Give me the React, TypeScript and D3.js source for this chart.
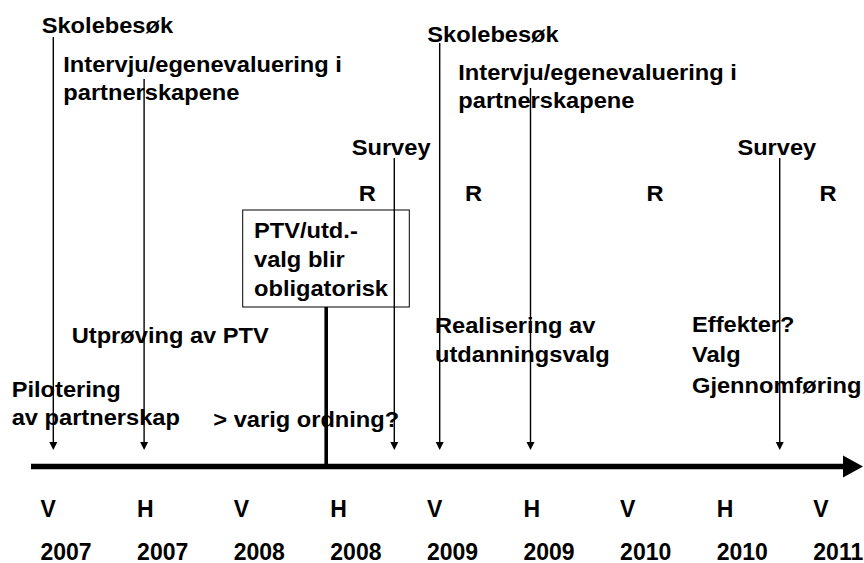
import React from "react";
import * as d3 from "d3";

const semesters = ["V", "H", "V", "H", "V", "H", "V", "H", "V"];
const years = ["2007", "2007", "2008", "2008", "2009", "2009", "2010", "2010", "2011"];

// events: semester position (index along the timeline)
const eventNames = ["Skolebesøk", "Intervju", "Survey", "Skolebesøk", "Intervju", "Survey"];
const eventPos = [0.06, 1.0, 3.59, 4.06, 5.0, 7.58];
const eventTop = [37, 79, 158, 43, 88, 158];

const milestonePos = 2.885; // PTV/utd.-valg blir obligatorisk
const rPos = [3.31, 4.41, 6.29, 8.08];

const W = 864;
const H = 563;
const FS = 21.5;
const SX = 1.1;

const x = d3.scaleLinear().domain([0, 8]).range([47.5, 820.3]);

const axisY = 466.5;
const arrowTip = 450;

function T({ x, y, children, anchor = "start" }: { x: number; y: number; children: any; anchor?: string }) {
  return (
    <text
      transform={`translate(${x},${y}) scale(${SX},1)`}
      textAnchor={anchor as any}
      fontFamily="'Liberation Sans', Arial, sans-serif"
      fontWeight="bold"
      fontSize={FS}
      fill="#000"
    >
      {children}
    </text>
  );
}

const labels: { x: number; y: number; lines: string[]; lh: number }[] = [
  { x: 41.7, y: 33.3, lines: ["Skolebesøk"], lh: 28.4 },
  { x: 63.3, y: 71.7, lines: ["Intervju/egenevaluering i", "partnerskapene"], lh: 28.4 },
  { x: 427.3, y: 41.7, lines: ["Skolebesøk"], lh: 28.4 },
  { x: 458.3, y: 80, lines: ["Intervju/egenevaluering i", "partnerskapene"], lh: 28.4 },
  { x: 351.7, y: 155, lines: ["Survey"], lh: 28.4 },
  { x: 737.4, y: 155, lines: ["Survey"], lh: 28.4 },
  { x: 254, y: 238.3, lines: ["PTV/utd.-", "valg blir", "obligatorisk"], lh: 28.7 },
  { x: 71.7, y: 343.3, lines: ["Utprøving av PTV"], lh: 28.4 },
  { x: 435, y: 333.3, lines: ["Realisering av", "utdanningsvalg"], lh: 28.4 },
  { x: 692, y: 331.5, lines: ["Effekter?", "Valg", "Gjennomføring"], lh: 30.5 },
  { x: 11.7, y: 396.7, lines: ["Pilotering", "av partnerskap"], lh: 28.4 },
  { x: 213.3, y: 426.7, lines: ["> varig ordning?"], lh: 28.4 },
];

export default function App() {
  return (
    <svg
      width={W}
      height={H}
      viewBox={`0 0 ${W} ${H}`}
      style={{ position: "absolute", left: 0, top: 0, background: "#fff" }}
    >
      <rect x={0} y={0} width={W} height={H} fill="#fff" />

      {/* box */}
      <rect x={242.7} y={210} width={166.6} height={97} fill="#fff" stroke="#000" strokeWidth={1} />

      {/* event arrows */}
      {eventPos.map((p, i) => {
        const cx = x(p);
        return (
          <g key={i}>
            <line x1={cx} x2={cx} y1={eventTop[i]} y2={arrowTip - 6} stroke="#000" strokeWidth={1.4} />
            <path d={`M${cx - 4},${arrowTip - 8} L${cx + 4},${arrowTip - 8} L${cx},${arrowTip} Z`} fill="#000" />
          </g>
        );
      })}

      {/* milestone line */}
      <line x1={x(milestonePos)} x2={x(milestonePos)} y1={307} y2={axisY} stroke="#000" strokeWidth={3.6} />

      {/* main axis */}
      <line x1={31} x2={846} y1={axisY} y2={axisY} stroke="#000" strokeWidth={5.3} />
      <path d={`M843,${axisY - 11} L863,${axisY} L843,${axisY + 11} Z`} fill="#000" />

      {/* R labels */}
      {rPos.map((p, i) => (
        <T key={i} x={x(p)} y={201} anchor="middle">
          R
        </T>
      ))}

      {/* annotation texts */}
      {labels.map((l, i) =>
        l.lines.map((s, j) => (
          <T key={`${i}-${j}`} x={l.x} y={l.y + j * l.lh}>
            {s}
          </T>
        ))
      )}

      {/* semester and year labels */}
      {semesters.map((s, i) => (
        <text
          key={`s${i}`}
          x={x(i) - 7}
          y={516.7}
          fontFamily="'Liberation Sans', Arial, sans-serif"
          fontWeight="bold"
          fontSize={23}
          fill="#000"
        >
          {s}
        </text>
      ))}
      {years.map((s, i) => (
        <text
          key={`y${i}`}
          x={x(i) - 7}
          y={560}
          fontFamily="'Liberation Sans', Arial, sans-serif"
          fontWeight="bold"
          fontSize={23}
          fill="#000"
        >
          {s}
        </text>
      ))}
    </svg>
  );
}
